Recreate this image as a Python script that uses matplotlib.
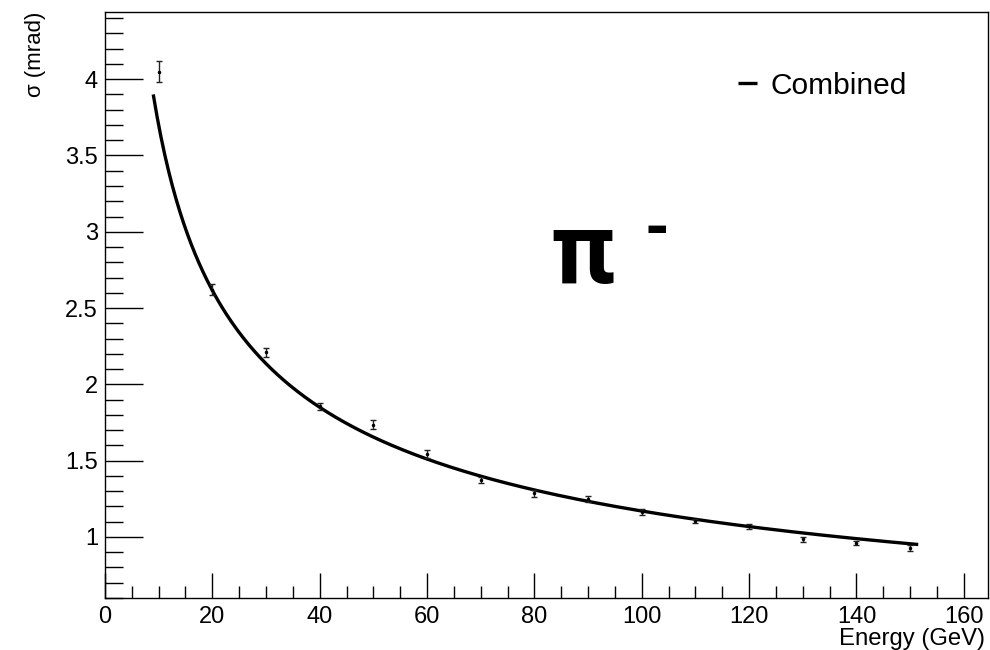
"""Resolució angular en funció de l'energia per a pions negatius."""

import matplotlib
matplotlib.use("Agg")
import matplotlib.pyplot as plt
from matplotlib.ticker import MultipleLocator
import numpy as np

# Punts mesurats (energia del feix, sigma i error)
energy = [10, 20, 30, 40, 50, 60, 70, 80, 90, 100, 110, 120, 130, 140, 150]
sigma = [4.05, 2.62, 2.21, 1.855, 1.735, 1.545, 1.375, 1.285, 1.25, 1.165,
         1.105, 1.07, 0.985, 0.96, 0.925]
sigma_err = [0.07, 0.035, 0.03, 0.025, 0.03, 0.025, 0.02, 0.02, 0.02, 0.02,
             0.015, 0.015, 0.015, 0.015, 0.02]

# Paràmetres de l'ajust combinat: sigma = a / sqrt(E)
fit_a = 11.7
fit_range = (9.0, 151.5)

y_ticks = [1, 1.5, 2, 2.5, 3, 3.5, 4]
y_tick_labels = ["1", "1.5", "2", "2.5", "3", "3.5", "4"]

plt.rcParams["font.family"] = ["Liberation Sans", "DejaVu Sans"]

fig = plt.figure(figsize=(9.9, 6.5), dpi=100)
ax = fig.add_axes([0.106, 0.08, 0.892, 0.9015])

e_fit = np.linspace(fit_range[0], fit_range[1], 400)
ax.plot(e_fit, fit_a / np.sqrt(e_fit), color="black", lw=2.4,
        label="Combined", solid_capstyle="butt")

ax.errorbar(energy, sigma, yerr=sigma_err, fmt="o", ms=1.5, color="black",
            ecolor="#222222", elinewidth=1.0, capsize=2.5, capthick=1.0)

ax.set_xlim(0, 164.5)
ax.set_ylim(0.6, 4.44)

ax.xaxis.set_major_locator(MultipleLocator(20))
ax.xaxis.set_minor_locator(MultipleLocator(5))
ax.yaxis.set_minor_locator(MultipleLocator(0.1))
ax.set_yticks(y_ticks)
ax.set_yticklabels(y_tick_labels)

ax.tick_params(axis="both", which="both", direction="in", labelsize=17,
               width=1.0, color="black")
ax.tick_params(axis="x", which="major", length=18, pad=6)
ax.tick_params(axis="x", which="minor", length=9)
ax.tick_params(axis="y", which="major", length=27, pad=5)
ax.tick_params(axis="y", which="minor", length=13)

for spine in ax.spines.values():
    spine.set_linewidth(1.0)

fig.text(0.995, 0.008, "Energy (GeV)", ha="right", va="baseline",
         fontsize=17.2)
fig.text(0.036, 0.982, "σ (mrad)", ha="center", va="top", rotation=90,
         fontsize=16)

# Etiqueta de la partícula
ax.text(0.541, 0.5375, "π", transform=ax.transAxes, fontsize=72,
        family="Roboto", fontweight="bold", ha="center", va="baseline")
ax.text(0.625, 0.596, "-", transform=ax.transAxes, fontsize=46,
        family="Roboto", fontweight="bold", ha="center", va="baseline")

ax.legend(loc="center left", bbox_to_anchor=(0.717, 0.874), frameon=False,
          fontsize=21.5, handlelength=0.64, handletextpad=0.43,
          borderpad=0, borderaxespad=0)

fig.savefig("out.png", dpi=100)
